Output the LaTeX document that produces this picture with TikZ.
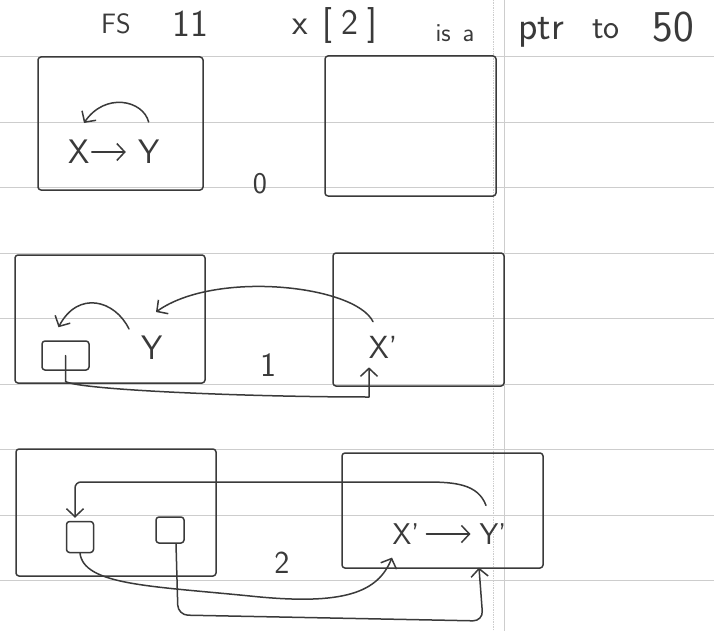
\documentclass[tikz,border=0pt]{standalone}
\usepackage{tikz}
\usetikzlibrary{positioning, arrows.meta}
\definecolor{ink}{HTML}{3A3A3A}
\definecolor{ruling}{HTML}{CDCDCD}
\tikzset{>={Straight Barb[length=8pt,width=17pt]},
pen/.style={draw=ink, line width=1.5pt, line cap=round, line join=round},
link/.style={pen, ->},
frame/.style 2 args={pen, rounded corners=3pt, minimum width=#1, minimum height=#2, inner sep=0pt},
hand/.style={text=ink, inner sep=1pt, font=\sffamily\fontsize{#1}{#1}\selectfont},
hand/.default=32}

\begin{document}
\begin{tikzpicture}[x=1pt, y=-1pt]
\useasboundingbox (0,0) rectangle (714,631);
\fill[white] (0,0) rectangle (714,631);
% ruled sheet
\foreach \k in {0,...,8}
  \draw[ruling, line width=0.7pt] (0,56.5+65.5*\k) -- (714,56.5+65.5*\k);
\draw[ruling, line width=0.7pt, densely dotted] (493,0) -- (493,631);
\draw[ruling, line width=0.7pt] (504,0) -- (504,631);

% heading
\node[hand=28] (fs) at (116,24) {FS};
\node[hand=38] (run) at (190,24) {11};
\node[hand=36] (idx) at (335,26) {x\hspace{14pt}[\hspace{9pt}2\hspace{9pt}]};
\node[hand=26] (isa) at (455,33) {is\hspace{12pt}a};
\node[hand=40] (ptr) at (541,32) {ptr};
\node[hand=34] (to) at (606,29) {to};
\node[hand=44] (fifty) at (673,27) {50};

% step 0
\node[frame={165pt}{133pt}] (left0) at (120.5,123.5) {};
\node[frame={171pt}{140pt}] (right0) at (410.5,126) {};
\node[hand=34] (x0) at (79,152) {X};
\node[hand=34, right=46pt of x0] (y0) {Y};
\node[hand=30] (n0) at (260,184) {0};

% step 1
\node[frame={190pt}{128pt}] (left1) at (110,319) {};
\node[frame={171pt}{133pt}] (right1) at (418.5,319.5) {};
\node[frame={47pt}{29pt}] (slot1) at (65.5,355.5) {};
\node[hand=34] (y1) at (152,348) {Y};
\node[hand=32] (x1) at (383,347) {X'};
\node[hand=34] (n1) at (268,365) {1};
\coordinate (k1) at (369,397);

% step 2
\node[frame={200pt}{127pt}] (left2) at (116,512.5) {};
\node[frame={201pt}{115pt}] (right2) at (442.5,510.5) {};
\node[frame={27pt}{31pt}] (slotA) at (80,537) {};
\node[frame={28pt}{26pt}] (slotB) at (170,530) {};
\node[hand=30] (x2) at (406,534) {X'};
\node[hand=30, right=58pt of x2] (y2) {Y'};
\node[hand=32] (n2) at (282,563) {2};
\coordinate (k2) at (178,615);
\coordinate (k3) at (483,621);

\draw
(x0) edge[link, shorten <=1pt, shorten >=11pt] (y0)
(x2) edge[link, shorten <=6pt, shorten >=8pt] (y2);

\draw[link] ([yshift=17pt]y0.north) .. controls (143,100) and (105,92) .. ([xshift=5pt,yshift=16pt]x0.north);

\draw[link] ([xshift=-23pt,yshift=6pt]y1.north) .. controls (115,300) and (78,290) .. ([xshift=-7pt,yshift=13pt]slot1.north);
\draw[link] ([xshift=-10pt,yshift=13pt]x1.north) .. controls (355,285) and (215,270) .. ([xshift=4pt,yshift=23pt]y1.north);
\draw[link] (slot1.center) -- ++(0,26) .. controls (80,390) and (250,397) .. (k1) -- ([xshift=-14pt,yshift=-8pt]x1.south);

\draw[link, rounded corners=6pt] ([xshift=-7pt,yshift=17pt]y2.north) .. controls (478,484) and (455,482) .. (420,482) -| ([xshift=-5pt,yshift=3pt]slotA.north);
\draw[link] (slotA.south) .. controls (84,585) and (150,586) .. (250,596) .. controls (345,606) and (378,592) .. ([xshift=-14pt,yshift=-12pt]x2.south);
\draw[link, rounded corners=10pt] ([xshift=6pt]slotB.south) -- (k2) -- (k3) -- ([xshift=-14pt,yshift=-22pt]y2.south);
\end{tikzpicture}
\end{document}
